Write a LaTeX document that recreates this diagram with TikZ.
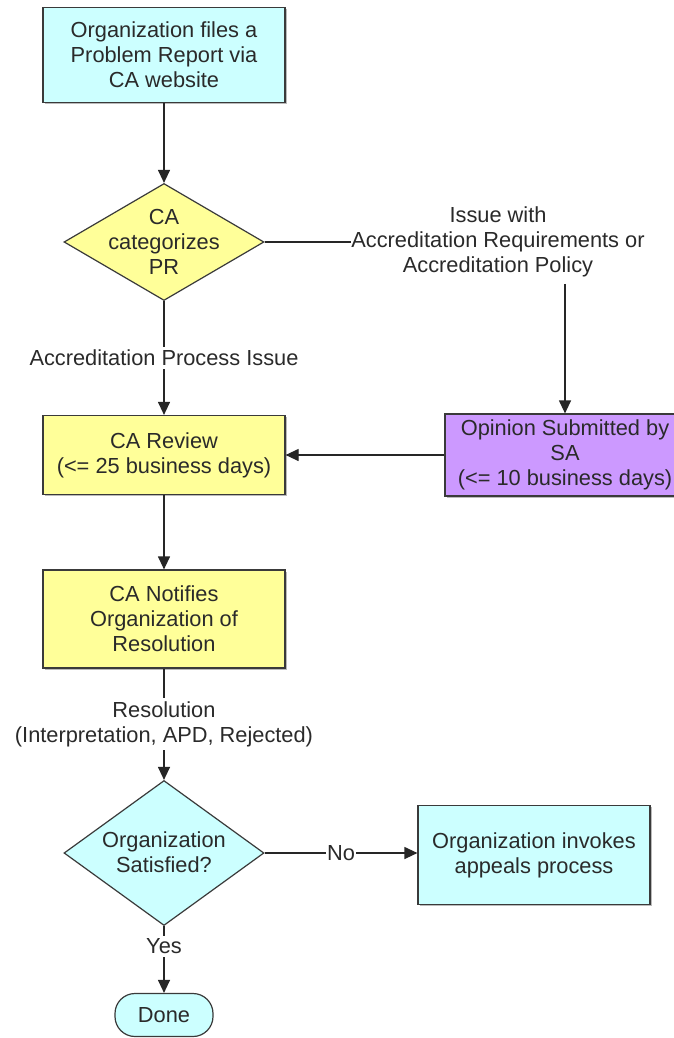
\documentclass[tikz,border=0pt]{standalone}
\usepackage{fontspec}
\setmainfont{Liberation Sans}
\usetikzlibrary{shapes.geometric,arrows.meta,shadows}
\definecolor{cy}{HTML}{CCFFFF}
\definecolor{yl}{HTML}{FFFF99}
\definecolor{pu}{HTML}{CC99FF}
\definecolor{bd}{HTML}{3A3A3A}
\definecolor{tx}{HTML}{2A2A2A}
\begin{document}
\begin{tikzpicture}[x=0.5pt,y=-0.5pt,
 every node/.style={font=\fontsize{10.9}{12.6}\selectfont, text=tx, align=center},
 box/.style={draw=bd, line width=0.6pt, rectangle, inner sep=0pt,
   drop shadow={shadow xshift=0.8pt, shadow yshift=-0.8pt, fill=black!45, opacity=0.6}},
 dia/.style={draw=bd, line width=0.6pt, diamond, inner sep=0pt},
 arr/.style={draw=black!85, line width=0.6pt, -{Triangle[length=6.5pt,width=6pt]}},
 ln/.style={draw=black!85, line width=0.6pt},
 lbl/.style={fill=white, inner sep=1.5pt}
]
\clip (0,0) rectangle (674,1038);
\fill[white] (0,0) rectangle (674,1038);

\node[box, fill=cy, minimum width=121pt, minimum height=47.5pt] (n1) at (164,55)
  {Organization files a\\Problem Report via\\CA website};

\node[dia, fill=yl, minimum width=100pt, minimum height=58.5pt] (d1) at (164,242) {};
\node (d1t) at (164,242) {CA\\categorizes\\PR};

\node[inner xsep=0pt, inner ysep=3pt] (iss) at (498,242)
  {Issue with\\Accreditation Requirements or\\Accreditation Policy};

\node[box, fill=yl, minimum width=121pt, minimum height=39.5pt] (rev) at (164,455)
  {CA Review\\(<= 25 business days)};

\node[box, fill=pu, minimum width=120pt, minimum height=41pt] (sa) at (565,455)
  {Opinion Submitted by\\SA\\(<= 10 business days)};

\node[box, fill=yl, minimum width=121pt, minimum height=49pt] (notif) at (164,619)
  {CA Notifies\\Organization of\\Resolution};

\node[dia, fill=cy, minimum width=100pt, minimum height=72.5pt] (d2) at (164,853) {};
\node (d2t) at (164,852) {Organization\\Satisfied?};

\node[box, fill=cy, minimum width=116pt, minimum height=49.5pt] (app) at (534,855)
  {Organization invokes\\appeals process};

\node[draw=bd, line width=0.6pt, fill=cy, rounded corners=10pt, minimum width=49pt,
  minimum height=21.5pt, inner sep=0pt] (done) at (164,1015) {Done};

\draw[arr] (n1.south) -- (d1.north);
\draw[ln] (d1.east) -- (iss.west);
\draw[arr] (iss.south -| sa.north) -- (sa.north);
\draw[arr] (d1.south) -- node[lbl] (l1) {Accreditation Process Issue} (rev.north);
\draw[arr] (sa.west) -- (rev.east);
\draw[arr] (rev.south) -- (notif.north);
\draw[arr] (notif.south) -- node[lbl] (l2) {Resolution\\(Interpretation, APD, Rejected)} (d2.north);
\draw[arr] (d2.east) -- node[lbl, inner sep=0.5pt] (l3) {No} (d2.east -| app.west);
\draw[arr] (d2.south) -- node[lbl, pos=0.3] (l4) {Yes} (done.north);
\end{tikzpicture}
\end{document}
